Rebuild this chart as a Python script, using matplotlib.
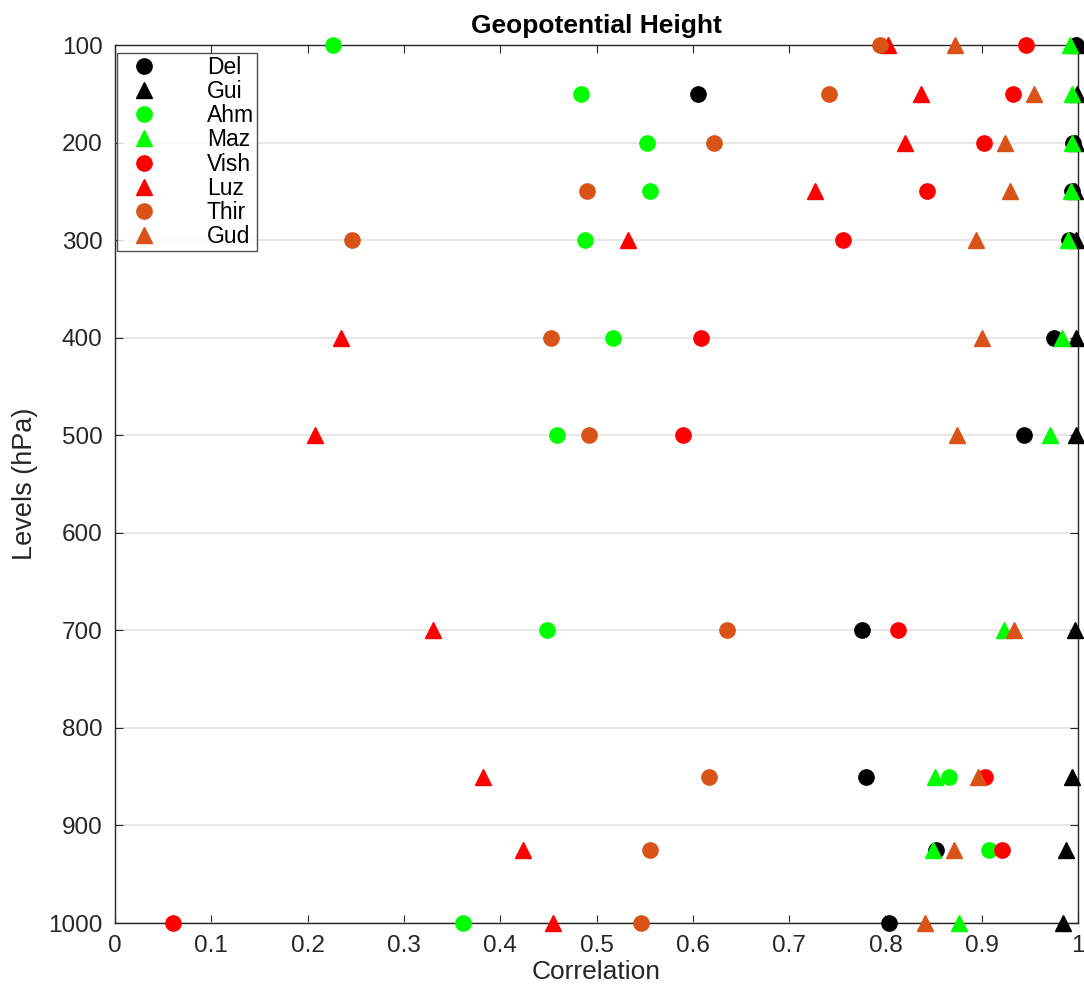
import matplotlib
matplotlib.use('Agg')
import matplotlib.pyplot as plt

plt.rcParams['font.family'] = ['Liberation Sans', 'DejaVu Sans']

# pressure levels (hPa)
levels = [100, 150, 200, 250, 300, 400, 500, 700, 850, 925, 1000]

# correlation per station
del_corr = [0.998, 0.605, 0.995, 0.994, 0.991, 0.975, 0.944, 0.776, 0.780, 0.853, 0.804]
gui_corr = [0.999, 0.999, 0.998, 0.997, 0.998, 0.998, 0.998, 0.997, 0.994, 0.988, 0.984]
ahm_corr = [0.226, 0.484, 0.552, 0.556, 0.488, 0.517, 0.459, 0.449, 0.866, 0.908, 0.361]
maz_corr = [0.992, 0.994, 0.994, 0.993, 0.990, 0.983, 0.971, 0.923, 0.851, 0.849, 0.876]
vish_corr = [0.946, 0.932, 0.902, 0.843, 0.756, 0.609, 0.590, 0.813, 0.903, 0.921, 0.060]
luz_corr = [0.803, 0.837, 0.820, 0.727, 0.533, 0.235, 0.208, 0.330, 0.382, 0.424, 0.455]
thir_corr = [0.794, 0.741, 0.622, 0.490, 0.246, 0.453, 0.492, 0.636, 0.617, 0.556, 0.546]
gud_corr = [0.872, 0.954, 0.924, 0.929, 0.894, 0.900, 0.874, 0.934, 0.896, 0.871, 0.841]

stations = ['Del', 'Gui', 'Ahm', 'Maz', 'Vish', 'Luz', 'Thir', 'Gud']
series = [del_corr, gui_corr, ahm_corr, maz_corr, vish_corr, luz_corr, thir_corr, gud_corr]
colors = ['black', 'black', '#00ff00', '#00ff00', 'red', 'red', '#d95319', '#d95319']
markers = ['o', '^', 'o', '^', 'o', '^', 'o', '^']

fig = plt.figure(figsize=(10.84, 9.85), dpi=100)
ax = fig.add_axes([115 / 1084, 1 - 923 / 985, 963 / 1084, 878 / 985])

for name, vals, c, m in zip(stations, series, colors, markers):
    ax.plot(vals, levels, linestyle='none', marker=m, color=c,
            markersize=12 if m == '^' else 11, label=name, clip_on=False, zorder=3)

ax.set_xlim(0, 1)
ax.set_ylim(1000, 100)
ax.set_xticks([i / 10 for i in range(11)])
ax.set_xticklabels(['0', '0.1', '0.2', '0.3', '0.4', '0.5', '0.6', '0.7', '0.8', '0.9', '1'])
ax.set_yticks(range(100, 1001, 100))
ax.grid(axis='y', color='#e3e3e3', linewidth=1.2, zorder=0)
ax.set_axisbelow(True)
ax.tick_params(direction='in', top=True, right=True, labelsize=17.5,
               length=6, width=0.8, colors='#262626')
ax.tick_params(axis='y', pad=9)
ax.tick_params(axis='x', pad=9)
for s in ax.spines.values():
    s.set_color('#262626')
    s.set_linewidth(1.0)

ax.set_xlabel('Correlation', fontsize=19, color='#262626', labelpad=2)
ax.set_ylabel('Levels (hPa)', fontsize=19.5, color='#262626', labelpad=7)
ax.set_title('Geopotential Height', fontsize=19, fontweight='bold', pad=9)

leg = ax.legend(loc='upper left', bbox_to_anchor=(0.0, 0.994), fontsize=16.5,
                frameon=True, fancybox=False, borderpad=0.15, labelspacing=0.05,
                handletextpad=1.75, borderaxespad=0.1, handlelength=2.0)
leg.get_frame().set_edgecolor('#262626')
leg.get_frame().set_linewidth(1.0)

fig.savefig('out.png', dpi=100)
